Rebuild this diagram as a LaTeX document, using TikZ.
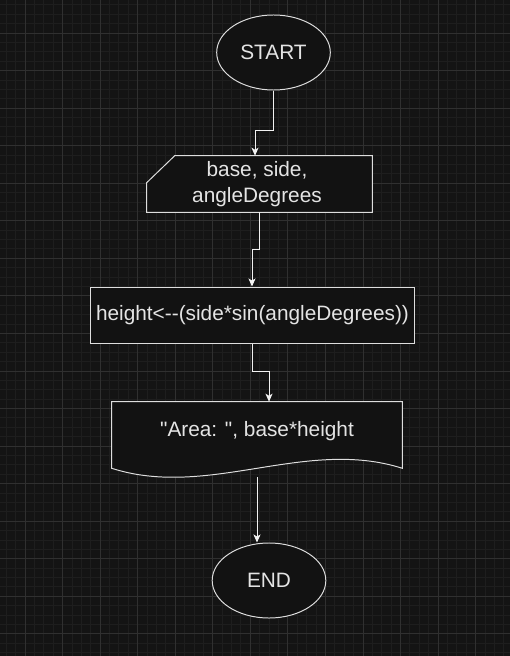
\documentclass[tikz,border=0pt]{standalone}
\usepackage{fontspec}
\setmainfont{Liberation Sans}[Ligatures=TeXOff]
\usetikzlibrary{arrows.meta,shapes.geometric,positioning,calc}
\definecolor{BgGray}{HTML}{141414}
\definecolor{BoxFill}{HTML}{121212}
\definecolor{GridMinor}{HTML}{1E1E1E}
\definecolor{GridMajor}{HTML}{303030}
\definecolor{EdgeWhite}{HTML}{DEDEDE}
\definecolor{FlowWhite}{HTML}{F2F2F2}
\definecolor{TextGray}{HTML}{E4E4E4}

\tikzset{
        gridminor/.style={draw=GridMinor, line width=0.6pt},
        gridmajor/.style={draw=GridMajor, line width=0.6pt},
        label text/.style={text=TextGray, font=\fontsize{14.8}{18}\selectfont, align=center, inner sep=0pt},
        terminal/.style={label text, ellipse, draw=EdgeWhite, fill=BoxFill, line width=0.7pt,
                minimum width=2.84cm, minimum height=1.875cm},
        boxarea/.style={label text, rectangle, minimum height=1.4cm},
        outline/.style={draw=EdgeWhite, fill=BoxFill, line width=0.7pt},
        flow/.style={draw=FlowWhite, line width=0.7pt,
                -{Stealth[length=2mm, width=1.75mm, inset=0.5mm]}}
}

\begin{document}
\begin{tikzpicture}[x=0.025cm, y=-0.025cm]
        \useasboundingbox (0,0) rectangle (510,656);
        \fill[BgGray] (0,0) rectangle (510,656);

        \begin{scope}
        \clip (0,0) rectangle (510,656);
        \foreach \k in {-3,...,52} \draw[gridminor] ({25+9.3875*\k},0) -- ++(0,656);
        \foreach \k in {-4,...,66} \draw[gridminor] (0,{33+9.3875*\k}) -- ++(510,0);
        \foreach \k in {-1,...,13} \draw[gridmajor] ({25+37.55*\k},0) -- ++(0,656);
        \foreach \k in {-1,...,17} \draw[gridmajor] (0,{33+37.55*\k}) -- ++(510,0);
        \end{scope}

        \node[terminal] (start) at (273.5,52.5) {START};

        \node[boxarea, minimum width=5.625cm] (inp) at (259.5,184) {};
        \draw[outline] ($(inp.north west)+(28,0)$) -- (inp.north east) -- (inp.south east)
                -- (inp.south west) -- ($(inp.north west)+(0,27)$) -- cycle;
        \node[label text] (inptext) at (257,184) {base, side,\\angleDegrees};

        \node[boxarea, outline, minimum width=8.075cm] (calc) at (252.5,315)
                {height<--(side*sin(angleDegrees))};

        \node[boxarea, minimum width=7.25cm, minimum height=1.45cm] (outp) at (257,431) {};
        \draw[outline] (outp.north west) -- (outp.north east) -- ($(outp.south east)+(0,8)$)
                .. controls ($(outp.south east)+(-97,-23)$) and ($(outp.south west)+(97,39)$)
                .. ($(outp.south west)+(0,8)$) -- cycle;
        \node[label text] (outtext) at (257,431) {"Area: ", base*height};

        \node[terminal] (stop) at (269,580.5) {END};

        \coordinate (A) at (255,130);
        \coordinate (B) at (252,249);
        \coordinate (C) at (269,371);
        \coordinate (D) at (257,477);

        \draw[flow] (start.south) |- (A) -- (A |- inp.north);
        \draw[flow] (inp.south) |- (B) -- (B |- calc.north);
        \draw[flow] (calc.south) |- (C) -- (C |- outp.north);
        \draw[flow] (D) -- (D |- stop.north);

\end{tikzpicture}
\end{document}
